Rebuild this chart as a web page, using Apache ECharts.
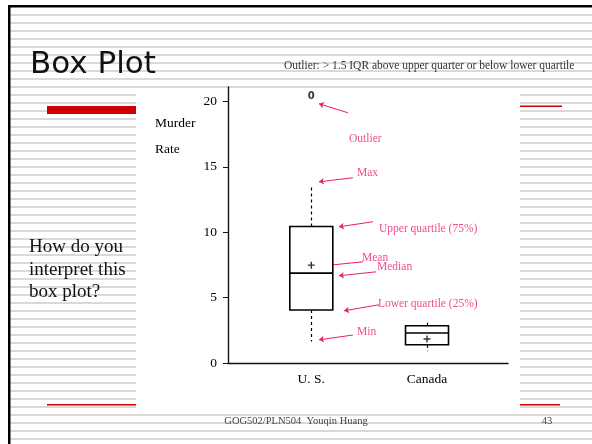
<!DOCTYPE html>
<html>
<head>
<meta charset="utf-8">
<script src="https://cdn.jsdelivr.net/npm/echarts@6/dist/echarts.min.js"></script>
<style>
html, body { margin: 0; padding: 0; background: #fff; }
#main { width: 592px; height: 444px; }
</style>
</head>
<body>
<div id="main"></div>
<script>
// Categories and where they sit on the x axis
const categories = ['U. S.', 'Canada'];
const positions = [1, 2];
// Murder rate summaries per country
const mins = [1.65, 0.89];
const lowerQuartiles = [4.05, 1.40];
const medians = [6.87, 2.29];
const upperQuartiles = [10.43, 2.85];
const maxs = [13.6, 3.1];
const means = [7.48, 1.83];
// Outliers as [position, value]
const outliers = [[1, 20.4]];
// Y axis tick labels
const yTicks = [0, 5, 10, 15, 20];
// Pink notes: label, arrow tail, arrow tip, label anchor (data units)
const noteNames = ['Outlier', 'Max', 'Upper quartile (75%)', 'Mean', 'Median', 'Lower quartile (25%)', 'Min'];
const noteTails = [[1.317, 19.13], [1.36, 14.16], [1.533, 10.80], [1.447, 7.74], [1.559, 6.97], [1.585, 4.45], [1.36, 2.14]];
const noteTips = [[1.066, 19.82], [1.066, 13.85], [1.239, 10.41], [1.110, 7.43], [1.239, 6.67], [1.283, 3.99], [1.066, 1.77]];
const noteAnchors = [[1.326, 17.1], [1.395, 14.53], [1.585, 10.26], [1.438, 8.04], [1.568, 7.35], [1.576, 4.53], [1.395, 2.39]];

const pink = '#ec1a72';
const serif = 'Liberation Serif';

// slide background: grey stripes, border, red rules, texts
let graphics = [];
for (let y = 14; y < 444; y += 8) {
    graphics.push({ type: 'rect', z: -10, silent: true, shape: { x: 10, y: y, width: 582, height: 2 }, style: { fill: '#d9d9d9' } });
}
graphics.push({ type: 'rect', z: -5, silent: true, shape: { x: 136, y: 88, width: 384, height: 324 }, style: { fill: '#fff' } });
graphics.push({ type: 'rect', z: -4, shape: { x: 8, y: 5, width: 584, height: 2.5 }, style: { fill: '#000' } });
graphics.push({ type: 'rect', z: -4, shape: { x: 8, y: 5, width: 2.5, height: 439 }, style: { fill: '#000' } });
graphics.push({ type: 'rect', z: -4, shape: { x: 47, y: 106, width: 89, height: 8 }, style: { fill: '#cc0000' } });
graphics.push({ type: 'rect', z: -4, shape: { x: 520, y: 105.5, width: 42, height: 1.5 }, style: { fill: '#cc0000' } });
graphics.push({ type: 'rect', z: -4, shape: { x: 47, y: 404, width: 89, height: 1.5 }, style: { fill: '#cc0000' } });
graphics.push({ type: 'rect', z: -4, shape: { x: 520, y: 404, width: 40, height: 1.5 }, style: { fill: '#cc0000' } });

function addText(text, x, y, size, family, color, align) {
    graphics.push({
        type: 'text', z: 5, x: x, y: y,
        style: { text: text, fill: color, font: size + 'px "' + family + '"', align: align || 'left', verticalAlign: 'middle' }
    });
}
addText('Box Plot', 30, 65, 31, 'DejaVu Sans', '#111');
addText('Outlier: > 1.5 IQR above upper quarter or below lower quartile', 284, 66, 11.5, serif, '#333');
addText('How do you', 29, 247.5, 19, serif, '#111');
addText('interpret this', 29, 270, 19, serif, '#111');
addText('box plot?', 29, 292.5, 19, serif, '#111');
addText('Murder', 155, 123, 13.5, serif, '#000');
addText('Rate', 155, 149, 13.5, serif, '#000');
addText('GOG502/PLN504  Youqin Huang', 296, 421, 10.5, serif, '#444', 'center');
addText('43', 547, 421, 10.5, serif, '#444', 'center');

// boxes drawn without whisker caps: min/max folded onto the quartiles
let boxData = positions.map((p, i) => [p, lowerQuartiles[i], lowerQuartiles[i], medians[i], upperQuartiles[i], upperQuartiles[i]]);
let whiskerData = [];
positions.forEach((p, i) => {
    whiskerData.push({ coords: [[p, upperQuartiles[i]], [p, maxs[i]]] });
    whiskerData.push({ coords: [[p, lowerQuartiles[i]], [p, mins[i]]] });
});
let meanData = positions.map((p, i) => [p, means[i]]);
let arrowData = noteNames.map((n, i) => ({ coords: [noteTails[i], noteTips[i]] }));
let noteData = noteNames.map((n, i) => ({ name: n, value: noteAnchors[i] }));

let myChart = echarts.init(document.getElementById('main'));
let option = {
    animation: false,
    grid: { left: 228, right: 84, top: 87, bottom: 81 },
    xAxis: {
        type: 'value',
        min: 0.28,
        max: 2.7,
        splitLine: { show: false },
        axisTick: { show: false },
        axisLine: { show: true, lineStyle: { color: '#111', width: 1.4 } },
        axisLabel: {
            customValues: positions,
            formatter: v => categories[positions.indexOf(v)],
            color: '#000', fontFamily: serif, fontSize: 13.5, margin: 9
        }
    },
    yAxis: {
        type: 'value',
        min: 0,
        max: 21.1,
        splitLine: { show: false },
        axisLine: { show: true, lineStyle: { color: '#111', width: 1.4 } },
        axisTick: { show: true, length: 5, customValues: yTicks, lineStyle: { color: '#111' } },
        axisLabel: { customValues: yTicks, color: '#000', fontFamily: serif, fontSize: 13.5, margin: 11 }
    },
    graphic: graphics,
    series: [
        {
            type: 'boxplot',
            data: boxData,
            boxWidth: [43, 43],
            itemStyle: { color: '#fff', borderColor: '#000', borderWidth: 1.6 },
            silent: true
        },
        {
            type: 'lines',
            coordinateSystem: 'cartesian2d',
            data: whiskerData,
            lineStyle: { color: '#000', width: 1.2, type: [3, 3], opacity: 1 },
            silent: true
        },
        {
            type: 'scatter',
            data: meanData,
            symbol: 'path://M4,0H6V4H10V6H6V10H4V6H0V4H4Z',
            symbolSize: 7,
            itemStyle: { color: '#000' },
            silent: true
        },
        {
            type: 'scatter',
            data: outliers,
            symbolSize: 0,
            label: { show: true, position: 'inside', formatter: '0', color: '#000', fontFamily: 'DejaVu Sans', fontWeight: 'bold', fontSize: 10 },
            silent: true
        },
        {
            type: 'lines',
            coordinateSystem: 'cartesian2d',
            data: arrowData,
            symbol: ['none', 'arrow'],
            symbolSize: 5,
            lineStyle: { color: pink, width: 1, opacity: 1 },
            silent: true
        },
        {
            type: 'scatter',
            data: noteData,
            symbolSize: 0,
            label: { show: true, position: 'right', distance: 0, formatter: '{b}', color: pink, fontFamily: serif, fontSize: 11.5 },
            silent: true
        }
    ]
};
myChart.setOption(option);
</script>
</body>
</html>
